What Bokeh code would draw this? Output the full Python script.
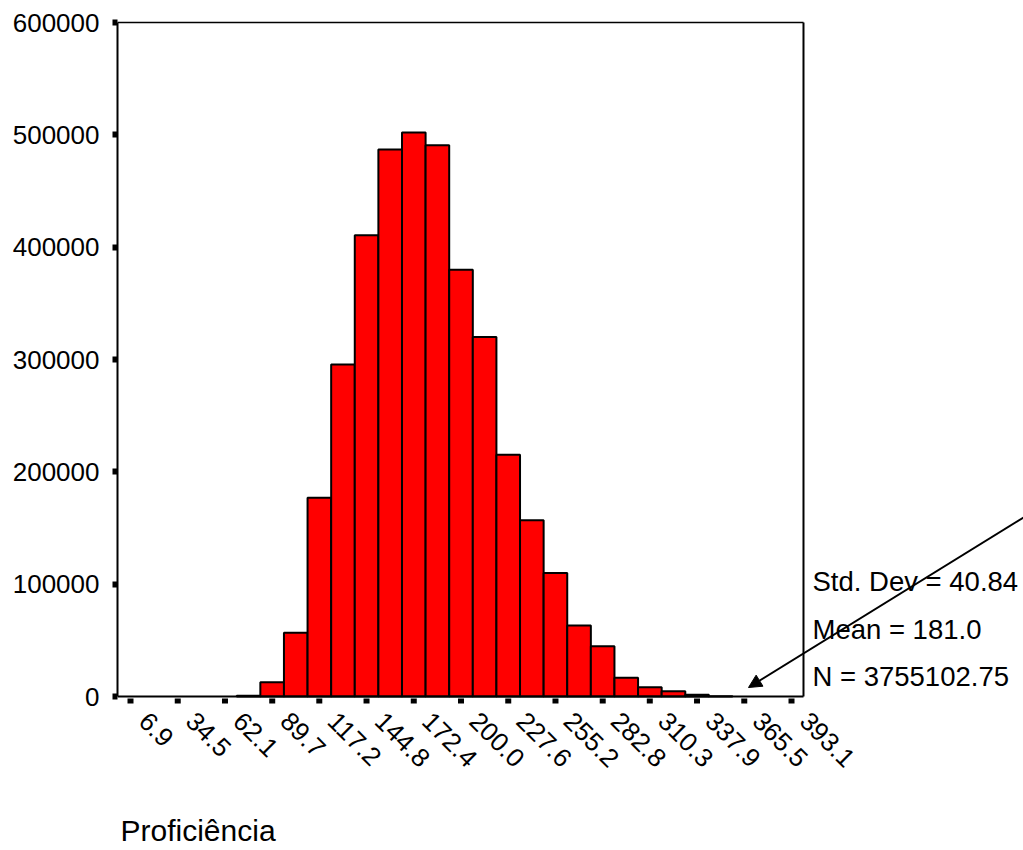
from bokeh.plotting import figure
from bokeh.models import FixedTicker, Range1d, Arrow, NormalHead, ColumnDataSource
from bokeh.core.properties import value
from bokeh.embed import file_html
from bokeh.resources import INLINE
import math

# ---- data ----
bin_lo = 0.0
bin_hi = 400.0
counts = [0, 0, 0, 0, 0, 600, 12700, 56700, 177000, 295600, 410500, 487000,
          502000, 490700, 380000, 320000, 215200, 157000, 110000, 63200,
          44800, 16600, 8300, 4700, 1500, 300, 0, 0, 0]
tick_labels = ["6.9", "34.5", "62.1", "89.7", "117.2", "144.8", "172.4", "200.0",
               "227.6", "255.2", "282.8", "310.3", "337.9", "365.5", "393.1"]
y_ticks = [0, 100000, 200000, 300000, 400000, 500000, 600000]
stats_lines = ["Std. Dev = 40.84", "Mean = 181.0", "N = 3755102.75"]
x_title = "Proficiência"

nb = len(counts)
w = (bin_hi - bin_lo) / nb
left = [bin_lo + i * w for i in range(nb) if counts[i] > 0]
right = [l + w for l in left]
top = [c for c in counts if c > 0]
src = ColumnDataSource(dict(left=left, right=right, top=top, bottom=[0] * len(top)))
tick_x = [float(t) for t in tick_labels]

FONT = "Liberation Sans"
# layout (pixel geometry of the frame)
W, H = 1023, 850
FL = 117            # frame left
Y0 = 696            # pixel of y = 0
YT = 22             # pixel of y = 600000
y_top = y_ticks[-1]
upp = y_top / (Y0 - YT)            # data units per pixel (y)
x_lo, x_frame_hi = -0.7, 400.1
xupp = (float(tick_labels[-1]) - float(tick_labels[0])) / (791 - 130)
x_end = x_lo + (W - FL) * xupp

p = figure(width=W, height=H, output_backend="svg", toolbar_location=None,
           x_range=Range1d(x_lo, x_end),
           y_range=Range1d(-(H - Y0) * upp, Y0 * upp),
           x_axis_location=None,
           min_border_left=FL, min_border_right=0, min_border_top=0,
           min_border_bottom=0)
p.outline_line_color = None
p.xgrid.visible = False
p.ygrid.visible = False
p.background_fill_color = "white"
p.border_fill_color = "white"

p.quad(left="left", right="right", top="top", bottom="bottom", source=src,
       fill_color="#FF0000", line_color="black", line_width=2)

# frame edges: bottom axis line, top, right
p.segment(x0=[x_lo, x_lo, x_frame_hi], y0=[0, y_top, 0],
          x1=[x_frame_hi, x_frame_hi, x_frame_hi], y1=[0, y_top, y_top],
          line_color="black", line_width=[2, 1.5, 2])

# x ticks (square marks) and rotated labels
p.rect(x=tick_x, y=[-4.5 * upp] * len(tick_x), width=6, height=5,
       width_units="screen", height_units="screen",
       fill_color="black", line_color=None)
p.text(x=tick_x, y=[0] * len(tick_x), text=tick_labels, angle=-math.pi / 4,
       x_offset=13, y_offset=20, text_font=value(FONT), text_font_size="26px",
       text_color="black", text_align="left", text_baseline="middle")

# y axis
ya = p.yaxis[0]
ya.ticker = FixedTicker(ticks=y_ticks)
ya.major_label_overrides = {v: str(v) for v in y_ticks}
ya.bounds = (0, y_top)
ya.axis_line_width = 2
ya.axis_line_color = "black"
ya.major_tick_line_width = 6
ya.major_tick_out = 5
ya.major_tick_in = 0
ya.minor_tick_line_color = None
ya.major_label_text_font = FONT
ya.major_label_text_font_size = "26px"
ya.major_label_text_color = "black"
ya.major_label_standoff = 13

# x title
p.text(x=[x_lo], y=[0], text=[x_title], x_offset=3, y_offset=134,
       text_font=value(FONT), text_font_size="30px", text_color="black",
       text_align="left", text_baseline="middle")

# stats text
p.text(x=[x_frame_hi] * 3, y=[0] * 3, text=stats_lines, x_offset=9,
       y_offset=[-115, -67, -20], text_font=value(FONT), text_font_size="27.5px",
       text_color="black", text_baseline="middle", text_align="left")

# arrow
p.add_layout(Arrow(end=NormalHead(size=13, fill_color="black", line_color="black"),
                   x_start=x_end, y_start=(Y0 - 517) * upp,
                   x_end=x_lo + (748 - FL) * xupp, y_end=(Y0 - 687) * upp,
                   line_color="black", line_width=2))

open("out.html", "w").write(file_html(p, INLINE))
